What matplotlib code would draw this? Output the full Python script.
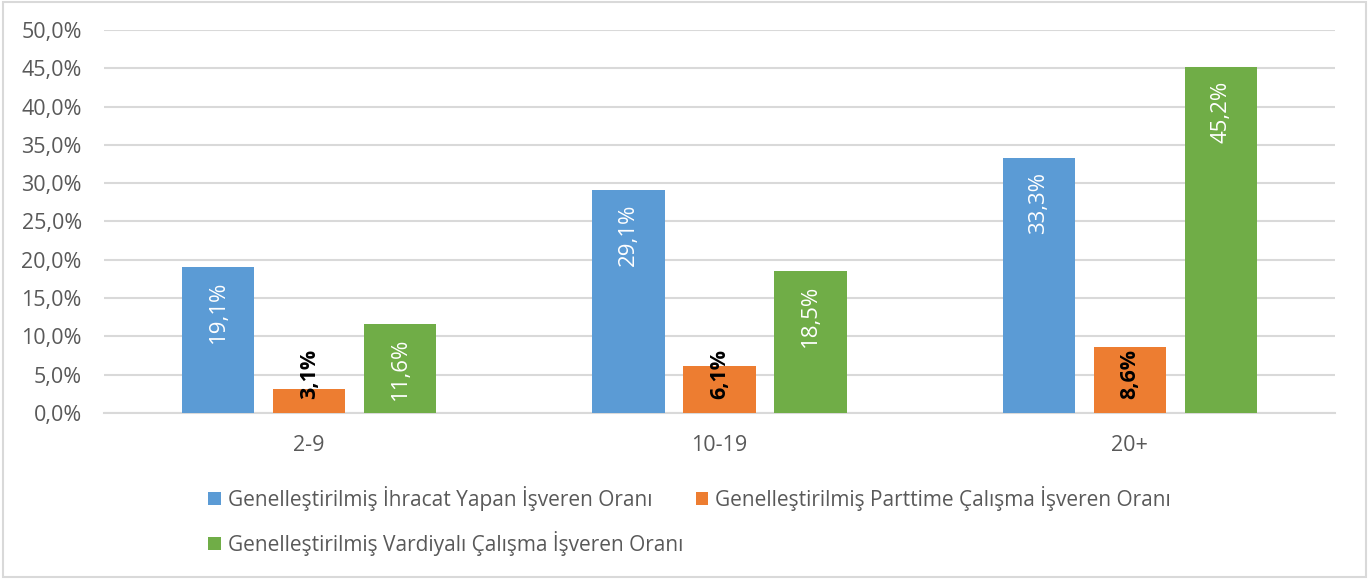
import matplotlib.pyplot as plt
import numpy as np
from matplotlib.patches import Rectangle
from matplotlib.ticker import FuncFormatter

plt.rcParams['font.family'] = ['Open Sans', 'DejaVu Sans']

categories = ["2-9", "10-19", "20+"]
ihracat = [19.1, 29.1, 33.3]
parttime = [3.1, 6.1, 8.6]
vardiyali = [11.6, 18.5, 45.2]
names = ["Genelleştirilmiş İhracat Yapan İşveren Oranı",
         "Genelleştirilmiş Parttime Çalışma İşveren Oranı",
         "Genelleştirilmiş Vardiyalı Çalışma İşveren Oranı"]
colors = ["#5B9BD5", "#ED7D31", "#70AD47"]

fig = plt.figure(figsize=(13.71, 5.79), dpi=100)
ax = fig.add_axes([0.0759, 0.2867, 0.8978, 0.6615])
fig.patches.append(Rectangle((0.002, 0.003), 0.994, 0.993, transform=fig.transFigure,
                             fill=False, edgecolor="#d9d9d9", linewidth=1.5))

x = np.arange(len(categories))
w = 0.176
off = 0.222
grey = "#595959"

bars = []
for i, (vals, c) in enumerate(zip([ihracat, parttime, vardiyali], colors)):
    b = ax.bar(x + (i - 1) * off, vals, w, color=c, label=names[i], zorder=3)
    bars.append(b)
    for xi, v in zip(x + (i - 1) * off, vals):
        txt = f"{v:.1f}%".replace(".", ",")
        if i == 1:
            ax.annotate(txt, (xi, 0), xytext=(0, 10), textcoords="offset points",
                        rotation=90, ha="center", va="bottom", fontsize=15.5,
                        color="black", fontweight="bold", zorder=4)
        else:
            ax.annotate(txt, (xi, v), xytext=(0, -10), textcoords="offset points",
                        rotation=90, ha="center", va="top", fontsize=16,
                        color="white", zorder=4)

ax.set_xlim(-0.5, 2.5)
ax.set_ylim(0, 50)
ax.set_yticks(np.arange(0, 50.1, 5))
ax.yaxis.set_major_formatter(FuncFormatter(lambda v, p: f"{v:.1f}%".replace(".", ",")))
ax.set_xticks(x)
ax.set_xticklabels(categories)
ax.tick_params(axis="both", length=0, labelsize=15.5, colors=grey)
ax.tick_params(axis="x", pad=16)
ax.tick_params(axis="y", pad=16)
ax.grid(axis="y", color="#d9d9d9", linewidth=1.5, zorder=0)
for s in ["top", "right", "left"]:
    ax.spines[s].set_visible(False)
ax.spines["bottom"].set_color("#d9d9d9")
ax.spines["bottom"].set_linewidth(1.5)

handles = [bars[0], bars[2], bars[1]]
labels = [names[0], names[2], names[1]]
leg = fig.legend(handles, labels, ncol=2, loc="center", bbox_to_anchor=(0.503, 0.1),
                 frameon=False, fontsize=15, handlelength=0.6, handleheight=0.6,
                 handletextpad=0.35, columnspacing=0.6, labelspacing=0.95, labelcolor=grey)

fig.savefig("out.png", dpi=100)
